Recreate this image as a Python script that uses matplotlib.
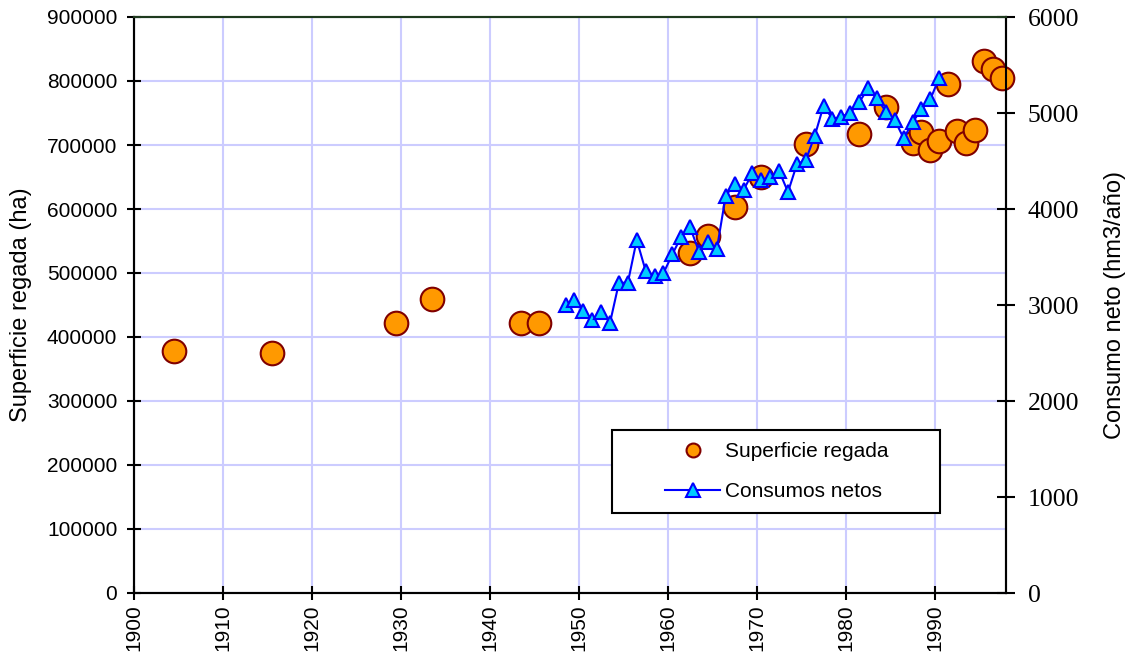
import matplotlib
matplotlib.use("Agg")
import matplotlib.pyplot as plt
from matplotlib.lines import Line2D
from matplotlib.patches import Rectangle

# Superficie regada (ha)
sup_years = [1904.5, 1915.5, 1929.5, 1933.5, 1943.5, 1945.5, 1962.5, 1964.5,
             1967.5, 1970.5, 1975.5, 1981.5, 1984.5, 1987.5, 1988.5, 1989.5,
             1990.5, 1991.5, 1992.5, 1993.5, 1994.5, 1995.5, 1996.5, 1997.5]
sup_ha = [378600, 374500, 422300, 459800, 421400, 421400, 531700, 557800,
          602600, 649500, 701600, 716700, 759800, 702700, 720800, 692200,
          706200, 795300, 721900, 703600, 723400, 831200, 818300, 804200]

# Consumos netos (hm3/año)
con_years = [1948.5 + i for i in range(43)]
con_hm3 = [3000, 3052, 2941, 2844, 2930, 2816, 3232, 3232, 3677, 3357,
           3302, 3330, 3528, 3711, 3809, 3555, 3659, 3580, 4139, 4257,
           4198, 4372, 4302, 4336, 4396, 4177, 4466, 4510, 4760, 5076,
           4938, 4961, 5003, 5111, 5257, 5153, 5014, 4927, 4736, 4903,
           5039, 5143, 5368]

x_ticks = list(range(1900, 2000, 10))
left_ticks = list(range(0, 900001, 100000))
right_ticks = list(range(0, 6001, 1000))

ORANGE = '#FF9900'
DARKRED = '#800000'
CYAN = '#00CCFF'
BLUE = '#0000FF'
GRID = '#CCCCFF'

plt.rcParams['font.family'] = ['Liberation Sans', 'DejaVu Sans']

fig = plt.figure(figsize=(11.3, 6.57), dpi=100)
ax = fig.add_axes([134 / 1130, 64 / 657, 872 / 1130, 576 / 657])
ax2 = ax.twinx()

ax.plot(sup_years, sup_ha, linestyle='none', marker='o', markersize=17,
        markerfacecolor=ORANGE, markeredgecolor=DARKRED, markeredgewidth=1.5,
        clip_on=False, zorder=3)
ax2.plot(con_years, con_hm3, color=BLUE, linewidth=1.5, marker='^',
         markersize=10.5, markerfacecolor=CYAN, markeredgecolor=BLUE,
         markeredgewidth=1.5, clip_on=False, zorder=3)

ax.set_xlim(1900, 1998)
ax.set_ylim(0, 900000)
ax2.set_ylim(0, 6000)
ax.set_xticks(x_ticks)
ax.set_yticks(left_ticks)
ax2.set_yticks(right_ticks)
ax.set_xticklabels([str(t) for t in x_ticks], rotation=90)
ax.set_yticklabels([str(t) for t in left_ticks])
ax2.set_yticklabels([str(t) for t in right_ticks], family='Liberation Serif',
                    fontsize=18.5)

ax.grid(True, color=GRID, linewidth=1.5)
ax.set_axisbelow(True)

for a in (ax, ax2):
    for s in a.spines.values():
        s.set_linewidth(1.5)
        s.set_color('black')
    a.spines['top'].set_color('#1E3A1E')

ax.tick_params(axis='both', direction='inout', length=10, width=1.5,
               labelsize=15)
ax.tick_params(axis='x', pad=3)
ax.tick_params(axis='y', pad=7)
ax2.tick_params(axis='y', direction='inout', length=13, width=1.5, pad=9)

ax.set_ylabel('Superficie regada (ha)', fontsize=17, labelpad=11)
ax2.set_ylabel('Consumo neto (hm3/año)', fontsize=17, labelpad=18)

# legend box drawn separately so the entries sit centred with wide side margins
box = Rectangle((0.548, 0.139), 0.376, 0.144, transform=ax2.transAxes,
                facecolor='white', edgecolor='black', linewidth=1.5,
                zorder=9, clip_on=False)
ax2.add_patch(box)

handles = [
    Line2D([], [], linestyle='none', marker='o', markersize=10,
           markerfacecolor=ORANGE, markeredgecolor=DARKRED, markeredgewidth=1.5),
    Line2D([], [], color=BLUE, linewidth=1.5, marker='^', markersize=10,
           markerfacecolor=CYAN, markeredgecolor=BLUE, markeredgewidth=1.5),
]
leg = ax2.legend(handles, ['Superficie regada', 'Consumos netos'],
                 loc='upper left', bbox_to_anchor=(0.609, 0.262),
                 fontsize=15, frameon=False, borderpad=0,
                 labelspacing=1.0, handlelength=2.65, handletextpad=0.25,
                 borderaxespad=0)
leg.set_zorder(10)

fig.savefig('out.png', dpi=100)
